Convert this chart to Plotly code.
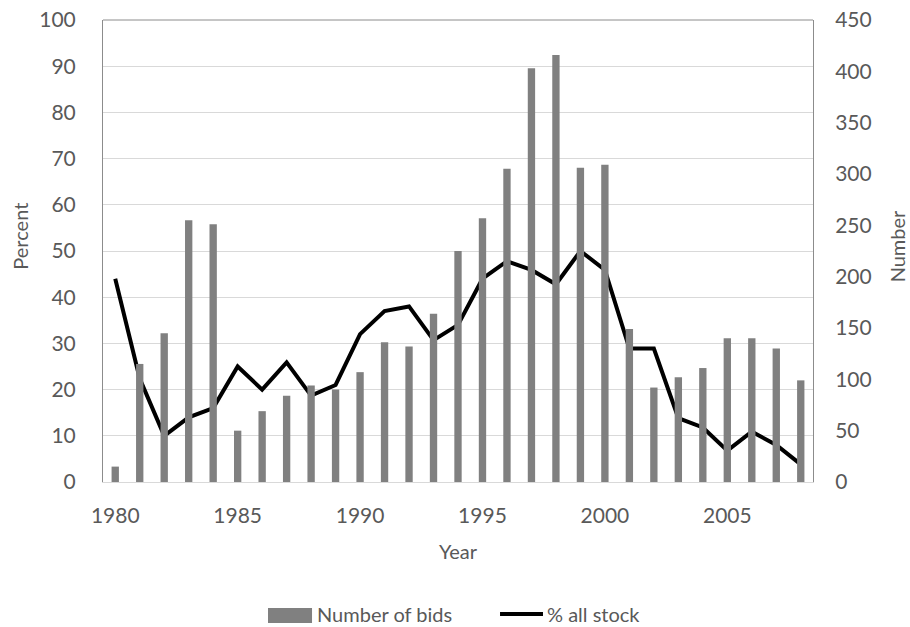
import plotly.graph_objects as go

years = list(range(1980, 2009))
number_of_bids = [15, 115, 145, 255, 251, 50, 69, 84, 94, 90, 107, 136,
                  132, 164, 225, 257, 305, 403, 416, 306, 309, 149, 92, 102,
                  111, 140, 140, 130, 99]
pct_all_stock = [44, 22.4, 10, 14, 16, 25, 20, 25.9, 18.7, 21, 32, 37,
                 38, 30.7, 34, 44, 47.8, 45.9, 42.8, 50, 45.9, 28.9, 28.9, 13.8,
                 11.8, 6.8, 10.9, 8, 3.8]
x_ticks = [1980, 1985, 1990, 1995, 2000, 2005]

font_family = "Lato, Open Sans, sans-serif"
txt = "#595959"
TICK = 21
TITLE = 20

fig = go.Figure()
fig.add_trace(go.Bar(x=years, y=number_of_bids, name="Number of bids",
                     marker=dict(color="#808080", line=dict(width=0)),
                     width=0.3, yaxis="y2", showlegend=False))
fig.add_trace(go.Scatter(x=years, y=pct_all_stock, name="% all stock",
                         mode="lines", line=dict(color="black", width=4),
                         yaxis="y", showlegend=False))

fig.update_layout(
    width=910, height=627,
    margin=dict(l=103, r=97, t=20, b=145),
    paper_bgcolor="white", plot_bgcolor="white",
    font=dict(family=font_family, size=TICK, color=txt),
    showlegend=False,
    xaxis=dict(range=[1979.5, 2008.5], tickvals=x_ticks, showgrid=False,
               showline=True, linecolor="#d9d9d9", linewidth=1, mirror=False,
               ticks="", ticklabelstandoff=15, automargin=False,
               tickfont=dict(size=TICK, color=txt), zeroline=False),
    yaxis=dict(range=[0, 100], dtick=10, showgrid=True, gridcolor="#d9d9d9",
               showline=True, linecolor="#8c8c8c", linewidth=1,
               ticks="", ticklabelstandoff=22, automargin=False,
               tickfont=dict(size=TICK, color=txt), zeroline=False),
    yaxis2=dict(range=[0, 450], dtick=50, overlaying="y", side="right",
                showgrid=False, showline=True, linecolor="#8c8c8c", linewidth=1,
                ticks="", ticklabelstandoff=17, automargin=False,
                tickfont=dict(size=TICK, color=txt), zeroline=False),
)
fig.add_shape(type="line", xref="paper", yref="paper", x0=0, x1=1, y0=1, y1=1,
              line=dict(color="#8c8c8c", width=1))

# axis titles
fig.add_annotation(text="Year", xref="paper", yref="paper", x=0.5, y=-0.149,
                   showarrow=False, font=dict(size=TITLE, color=txt),
                   xanchor="center", yanchor="middle")
fig.add_annotation(text="Percent", xref="paper", yref="paper", x=-0.1169, y=0.531,
                   textangle=-90, showarrow=False, font=dict(size=TITLE, color=txt),
                   xanchor="center", yanchor="middle")
fig.add_annotation(text="Number", xref="paper", yref="paper", x=1.1183, y=0.510,
                   textangle=-90, showarrow=False, font=dict(size=TITLE, color=txt),
                   xanchor="center", yanchor="middle")

# legend
fig.add_shape(type="rect", xref="paper", yref="paper", x0=0.2324, x1=0.2944,
              y0=-0.3052, y1=-0.2727, fillcolor="#808080", line=dict(width=0))
fig.add_annotation(text="Number of bids", xref="paper", yref="paper", x=0.2986,
                   y=-0.2857, showarrow=False, xanchor="left", yanchor="middle",
                   font=dict(size=TITLE, color=txt))
fig.add_shape(type="line", xref="paper", yref="paper", x0=0.5592, x1=0.6197,
              y0=-0.2857, y1=-0.2857, line=dict(color="black", width=4))
fig.add_annotation(text="% all stock", xref="paper", yref="paper", x=0.6225,
                   y=-0.2857, showarrow=False, xanchor="left", yanchor="middle",
                   font=dict(size=TITLE, color=txt))

fig.write_html("out.html", config={"displayModeBar": False},
               post_script="document.body.style.margin='0';")
